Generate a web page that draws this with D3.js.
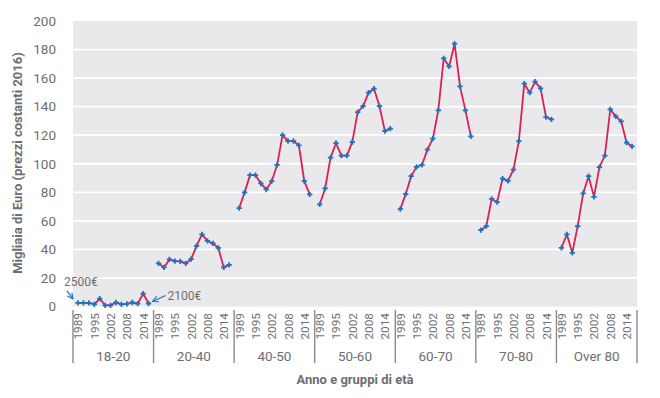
<!DOCTYPE html>
<html><head><meta charset="utf-8">
<script src="https://cdn.jsdelivr.net/npm/d3@7"></script>
<style>
body{margin:0;background:#fff;}
svg{display:block;font-family:"Roboto","DejaVu Sans",sans-serif;}
</style></head>
<body>
<svg id="c" width="660" height="398"></svg>
<script>
const groups = ["18-20","20-40","40-50","50-60","60-70","70-80","Over 80"];
const years = ["1989","1991","1993","1995","1998","2000","2002","2004","2006","2008","2010","2012","2014","2016"];
const tickYears = ["1989","1995","2002","2008","2014"];
const yTicks = [0,20,40,60,80,100,120,140,160,180,200];
const v1820 = [2.5,2.5,2.5,1.5,5.5,0.8,0.8,2.8,1.5,1.8,2.8,2.0,9.0,2.1];
const v2040 = [30.2,27.4,33.0,31.8,31.6,30.2,33.2,42.5,50.5,46.0,44.2,41.1,27.4,29.2];
const v4050 = [68.9,79.9,92.0,92.0,86.2,82.0,87.8,99.2,120.1,115.9,115.9,112.9,87.8,78.5];
const v5060 = [71.5,82.7,104.3,114.5,105.7,105.7,115.2,136.2,140.4,149.8,152.6,140.4,122.9,124.6];
const v6070 = [68.2,78.7,91.3,97.8,99.2,109.9,117.6,137.4,173.8,168.2,184.1,154.2,137.4,119.2];
const v7080 = [53.5,56.3,75.4,73.1,89.6,88.0,95.9,115.9,156.1,149.8,157.5,152.8,132.7,131.1];
const vOver80 = [41.1,50.5,37.6,56.3,79.2,91.3,76.8,97.6,105.7,138.1,133.2,129.7,114.8,112.2];
const seriesValues = [v1820,v2040,v4050,v5060,v6070,v7080,vOver80];
const notes = [{group:"18-20", year:"1989", label:"2500€"},{group:"18-20", year:"2016", label:"2100€"}];

const svg = d3.select("#c");
const L=73, R=637, T=21, B=306.5;
const textCol = "#6d6e71";

const x0 = d3.scaleBand().domain(groups).range([L,R]).paddingInner(0).paddingOuter(0);
const x1 = d3.scalePoint().domain(years).range([0,x0.bandwidth()]).padding(0.92);
const y = d3.scaleLinear().domain([0,200]).range([B,T]);

// background
svg.append("rect").attr("x",L).attr("y",y(200)).attr("width",R-L).attr("height",B-y(200)).attr("fill","#e9e9eb");
// gridlines
svg.append("g").selectAll("line").data(yTicks.filter(d=>d>0&&d<200)).join("line")
  .attr("x1",L).attr("x2",R).attr("y1",d=>y(d)).attr("y2",d=>y(d))
  .attr("stroke","#fff").attr("stroke-width",1.8);

// y axis labels
const yAxis = d3.axisLeft(y).tickValues(yTicks).tickSize(0).tickPadding(0);
const ga = svg.append("g").attr("transform",`translate(${L-17},0)`).call(yAxis);
ga.select(".domain").remove();
ga.selectAll("text").attr("fill",textCol).attr("font-size",13.5).attr("font-family","Roboto, sans-serif");

// y title
svg.append("text").attr("transform",`translate(21.5,163) rotate(-90)`)
  .attr("text-anchor","middle").attr("fill",textCol).attr("font-size",13).attr("font-weight","bold")
  .text("Migliaia di Euro (prezzi costanti 2016)");

// lines and markers
const line = d3.line().x(d=>d.x).y(d=>d.y);
groups.forEach((g,i)=>{
  const pts = seriesValues[i].map((v,j)=>({x:x0(g)+x1(years[j]), y:y(v)}));
  svg.append("path").attr("d",line(pts)).attr("fill","none").attr("stroke","#dc1f55").attr("stroke-width",1.8);
  svg.append("g").selectAll("path").data(pts).join("path")
    .attr("transform",d=>`translate(${d.x},${d.y})`)
    .attr("d",d3.symbol().type(d3.symbolCross).size(16)())
    .attr("fill","#1a72c2");
});

// x axis: year ticks
groups.forEach(g=>{
  const gg = svg.append("g");
  gg.selectAll("text").data(tickYears).join("text")
    .attr("transform",d=>`translate(${x0(g)+x1(d)+4.5},313) rotate(-90)`)
    .attr("text-anchor","end").attr("fill",textCol).attr("font-size",11.8)
    .text(d=>d);
  svg.append("text").attr("x",x0(g)+x0.bandwidth()/2).attr("y",361)
    .attr("text-anchor","middle").attr("fill",textCol).attr("font-size",13.5).text(g);
});
// separators
const seps = groups.map(g=>x0(g)).concat([R]);
svg.append("g").selectAll("line").data(seps).join("line")
  .attr("x1",d=>d).attr("x2",d=>d).attr("y1",310).attr("y2",363)
  .attr("stroke","#8a8b8e").attr("stroke-width",1.4);

// x title
svg.append("text").attr("x",355).attr("y",384).attr("text-anchor","middle")
  .attr("fill",textCol).attr("font-size",13).attr("font-weight","bold").text("Anno e gruppi di età");

// annotations
const defs = svg.append("defs");
defs.append("marker").attr("id","arr").attr("viewBox","0 0 10 10").attr("refX",9).attr("refY",5)
  .attr("markerWidth",6).attr("markerHeight",6).attr("orient","auto")
  .append("path").attr("d","M1,1 L9,5 L1,9").attr("fill","none").attr("stroke","#1a72c2").attr("stroke-width",1.6);
const n0 = notes[0], n1 = notes[1];
const gi0 = groups.indexOf(n0.group), gi1 = groups.indexOf(n1.group);
const p0 = {x:x0(n0.group)+x1(n0.year), y:y(seriesValues[gi0][years.indexOf(n0.year)])};
const p1 = {x:x0(n1.group)+x1(n1.year), y:y(seriesValues[gi1][years.indexOf(n1.year)])};
svg.append("text").attr("x",p0.x-14).attr("y",p0.y-17).attr("fill",textCol).attr("font-size",12).text(n0.label);
svg.append("line").attr("x1",p0.x-11).attr("y1",p0.y-12).attr("x2",p0.x-5).attr("y2",p0.y-4)
  .attr("stroke","#1a72c2").attr("stroke-width",1.2).attr("marker-end","url(#arr)");
svg.append("text").attr("x",p1.x+19).attr("y",p1.y-4).attr("fill",textCol).attr("font-size",12).text(n1.label);
svg.append("line").attr("x1",p1.x+17).attr("y1",p1.y-8).attr("x2",p1.x+4).attr("y2",p1.y-2)
  .attr("stroke","#1a72c2").attr("stroke-width",1.2).attr("marker-end","url(#arr)");
</script>
</body></html>
